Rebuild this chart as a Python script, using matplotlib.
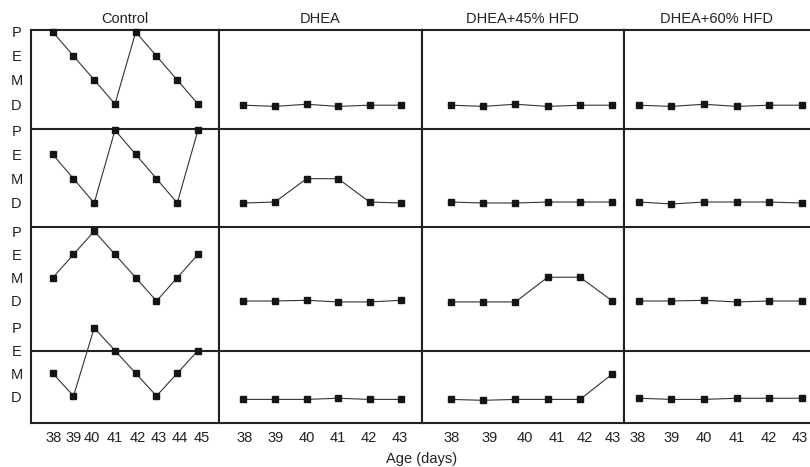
import matplotlib
matplotlib.use("Agg")
import matplotlib.pyplot as plt

plt.rcParams['font.family'] = ['Liberation Sans', 'DejaVu Sans']

# ---------------- data ----------------
groups = ["Control", "DHEA", "DHEA+45% HFD", "DHEA+60% HFD"]
control_days = [38, 39, 40, 41, 42, 43, 44, 45]
treat_days = [38, 39, 40, 41, 42, 43]
stage_labels = ["P", "E", "M", "D"]      # P=3, E=2, M=1, D=0
stage_values = [3, 2, 1, 0]

control = [
    [3, 2, 1, 0, 3, 2, 1, 0],
    [2, 1, 0, 3, 2, 1, 0, 3],
    [1, 2, 3, 2, 1, 0, 1, 2],
    [1, 0, 3, 2, 1, 0, 1, 2],
]
dhea = [
    [-0.05, -0.1, -0.01, -0.1, -0.05, -0.05],
    [0.0, 0.04, 1.0, 1.0, 0.04, 0.0],
    [0.0, 0.0, 0.03, -0.04, -0.04, 0.03],
    [-0.15, -0.15, -0.15, -0.1, -0.15, -0.15],
]
dhea45 = [
    [-0.05, -0.1, -0.01, -0.1, -0.05, -0.05],
    [0.04, 0.0, 0.0, 0.04, 0.04, 0.04],
    [-0.04, -0.04, -0.04, 1.02, 1.02, 0.0],
    [-0.15, -0.19, -0.15, -0.15, -0.15, 0.97],
]
dhea60 = [
    [-0.05, -0.1, -0.01, -0.1, -0.05, -0.05],
    [0.04, -0.04, 0.04, 0.04, 0.04, 0.0],
    [0.0, 0.0, 0.03, -0.04, 0.0, 0.0],
    [-0.1, -0.15, -0.15, -0.1, -0.1, -0.1],
]
series = [control, dhea, dhea45, dhea60]
days = [control_days, treat_days, treat_days, treat_days]

# ---------------- layout (pixels) ----------------
W, H = 810, 467
col_edges = [31, 219.3, 421.7, 624, 810]
top_px, bot_px = 30, 422.7
row_sep_px = [129.3, 227.3, 350.7]
row_base_px = [104, 203, 301, 396]     # pixel row of stage D per row
row_unit_px = [24.0, 24.3, 23.3, 22.7]  # pixels per stage step per row
xlims = [(36.952, 46.027), (37.236, 43.65), (37.10, 43.36), (37.54, 43.26)]
# small horizontal nudges (in pixels) of the tick labels, as typeset in the original
tick_nudge_px = [
    [0.5, 0.5, -2.0, -0.3, 2.3, 2.5, 2.8, 3.7],
    [0.9, 0.7, 0.2, -0.4, -0.6, -1.9],
    [1.0, 6.6, 9.6, 8.7, 5.0, 0.8],
    [-1.2, 0.3, 0.3, 0.2, -0.1, -1.6],
]

def to_y(r, v):
    return row_base_px[r] - row_unit_px[r] * v

fig = plt.figure(figsize=(W / 100, H / 100), dpi=100)
fig.patch.set_facecolor("white")

grid_col = "#222222"
for c in range(4):
    x0, x1 = col_edges[c], col_edges[c + 1]
    ax = fig.add_axes([x0 / W, 1 - bot_px / H, (x1 - x0) / W, (bot_px - top_px) / H])
    ax.set_ylim(bot_px, top_px)
    ax.set_xlim(*xlims[c])
    px_per_day = (x1 - x0) / (xlims[c][1] - xlims[c][0])
    for s in ax.spines.values():
        s.set_linewidth(1.5)
        s.set_color(grid_col)
    if c == 3:
        ax.spines['right'].set_visible(False)
    for yy in row_sep_px:
        ax.axhline(yy, color=grid_col, linewidth=1.5, zorder=1)
    for r in range(4):
        ys = [to_y(r, v) for v in series[c][r]]
        ax.plot(days[c], ys, color="#333333", linewidth=0.8,
                marker="s", markersize=5, markerfacecolor="#151515",
                markeredgecolor="#151515", zorder=3, clip_on=False)
    ax.set_xticks([d + n / px_per_day for d, n in zip(days[c], tick_nudge_px[c])])
    ax.set_xticklabels([str(d) for d in days[c]])
    ax.tick_params(axis='x', length=0, pad=6.3, labelsize=10.5, labelcolor="#222222")
    if c == 0:
        ypos, ylab = [], []
        for r in range(4):
            for lab, v in zip(stage_labels, stage_values):
                ypos.append(to_y(r, v))
                ylab.append(lab)
        ax.set_yticks(ypos)
        ax.set_yticklabels(ylab)
        ax.tick_params(axis='y', length=0, pad=10.4, labelsize=10.5, labelcolor="#222222")
        for lbl in ax.get_yticklabels():
            lbl.set_horizontalalignment('center')
    else:
        ax.set_yticks([])
    ax.set_title(groups[c], fontsize=10.5, pad=4.8, color="#222222")

fig.text(422 / W, 1 - 459 / H, "Age (days)", ha="center", va="center",
         fontsize=10.5, color="#222222")

fig.savefig("out.png", dpi=100)
